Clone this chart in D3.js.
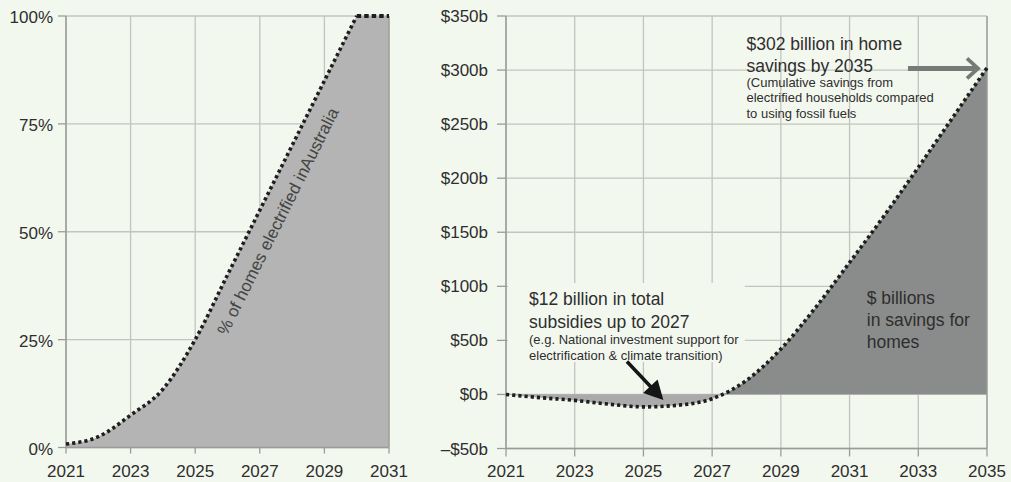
<!DOCTYPE html>
<html>
<head>
<meta charset="utf-8">
<script src="https://cdn.jsdelivr.net/npm/d3@7"></script>
<style>
  html, body { margin: 0; padding: 0; background: #f3f8ef; }
  svg { display: block; font-family: 'Liberation Sans', Arial, Helvetica, sans-serif; }
</style>
</head>
<body>
<svg id="chart" width="1011" height="482"></svg>
<script>
// ---- Data: share of homes electrified ----
const electrifiedYears = [2021, 2022, 2023, 2024, 2025, 2026, 2027, 2028, 2029, 2030, 2031];
const electrifiedPct   = [0.8, 2.5, 7.5, 13.5, 25, 40, 55, 70, 85, 100, 100];
const pctTicks         = [0, 25, 50, 75, 100];
const pctYearTicks     = [2021, 2023, 2025, 2027, 2029, 2031];

// ---- Data: cumulative household savings ($ billions) ----
const savingsYears     = [2021, 2022, 2023, 2024, 2025, 2026, 2027, 2028, 2029, 2030, 2031, 2032, 2033, 2034, 2035];
const savingsBillions  = [0, -3, -5.5, -9, -11.5, -10, -4, 13, 42, 80, 122, 165, 210, 256, 302];
const savingsTicks     = [-50, 0, 50, 100, 150, 200, 250, 300, 350];
const savingsYearTicks = [2021, 2023, 2025, 2027, 2029, 2031, 2033, 2035];

const svg = d3.select('#chart');
const BG = '#f3f8ef';
const GRID = '#c2c4c0';
const AXIS = '#9a9c99';
const TEXT = '#2e2e2e';
const DOT = '#1e1e1e';

// ================= Left panel =================
const xL = d3.scaleLinear().domain([2021, 2031]).range([66, 389]);
const yL = d3.scaleLinear().domain([0, 100]).range([447.5, 16]);
const gL = svg.append('g');

// gridlines
gL.selectAll('.hgrid').data(pctTicks).join('line')
  .attr('x1', xL(2021)).attr('x2', xL(2031))
  .attr('y1', d => yL(d)).attr('y2', d => yL(d))
  .attr('stroke', GRID).attr('stroke-width', 1.3);
gL.selectAll('.vgrid').data(pctYearTicks).join('line')
  .attr('x1', d => xL(d)).attr('x2', d => xL(d))
  .attr('y1', yL(0)).attr('y2', yL(100))
  .attr('stroke', GRID).attr('stroke-width', 1.3);

const pctData = electrifiedYears.map((yr, i) => ({ yr, v: electrifiedPct[i] }));
// smooth ramp up to full electrification, then a straight flat plateau
const rampData = pctData.filter(d => d.yr <= 2030);
const plateauData = pctData.filter(d => d.yr >= 2030);

const rampLine = d3.line().curve(d3.curveMonotoneX).x(d => xL(d.yr)).y(d => yL(d.v));
const plateauLine = d3.line().x(d => xL(d.yr)).y(d => yL(d.v));

const topPath = rampLine(rampData) + plateauLine(plateauData).replace(/^M/, 'L');
const last = pctData[pctData.length - 1], first = pctData[0];
gL.append('path')
  .attr('d', topPath + `L${xL(last.yr)},${yL(0)}L${xL(first.yr)},${yL(0)}Z`)
  .attr('fill', '#b3b4b3');

// axis lines (left edge, bottom, right border)
gL.append('line').attr('x1', xL(2021)).attr('x2', xL(2021)).attr('y1', yL(0)).attr('y2', yL(100))
  .attr('stroke', AXIS).attr('stroke-width', 1.5);
gL.append('line').attr('x1', xL(2021)).attr('x2', xL(2031)).attr('y1', yL(0)).attr('y2', yL(0))
  .attr('stroke', AXIS).attr('stroke-width', 1.5);
gL.append('line').attr('x1', xL(2031)).attr('x2', xL(2031)).attr('y1', yL(0)).attr('y2', yL(100))
  .attr('stroke', AXIS).attr('stroke-width', 1.3);

gL.append('path').attr('d', rampLine(rampData))
  .attr('fill', 'none').attr('stroke', DOT).attr('stroke-width', 3.6).attr('stroke-dasharray', '3.2,3');
gL.append('path').attr('d', plateauLine(plateauData))
  .attr('fill', 'none').attr('stroke', DOT).attr('stroke-width', 3.8).attr('stroke-dasharray', '4.5,3');

// y ticks + labels
gL.selectAll('.ytick').data(pctTicks).join('line')
  .attr('x1', xL(2021) - 8).attr('x2', xL(2021))
  .attr('y1', d => yL(d)).attr('y2', d => yL(d))
  .attr('stroke', AXIS).attr('stroke-width', 1.3);
gL.selectAll('.ylab').data(pctTicks).join('text')
  .attr('x', xL(2021) - 13).attr('y', d => yL(d) + 7)
  .attr('text-anchor', 'end').attr('font-size', 17).attr('fill', TEXT)
  .text(d => d + '%');

// x ticks + labels
gL.selectAll('.xtick').data(pctYearTicks).join('line')
  .attr('x1', d => xL(d)).attr('x2', d => xL(d))
  .attr('y1', yL(0)).attr('y2', yL(0) + 6)
  .attr('stroke', AXIS).attr('stroke-width', 1.3);
gL.selectAll('.xlab').data(pctYearTicks).join('text')
  .attr('x', d => xL(d)).attr('y', 476.5)
  .attr('text-anchor', 'middle').attr('font-size', 17).attr('fill', TEXT)
  .text(d => d);

// label running along the ramp
{
  const a = Math.atan2(yL(85) - yL(40), xL(2029) - xL(2026));
  const deg = a * 180 / Math.PI;
  const px = xL(2027.0), py = yL(54.5);
  const off = 20;
  const cx = px + off * Math.cos(a + Math.PI / 2);
  const cy = py + off * Math.sin(a + Math.PI / 2);
  gL.append('text')
    .attr('transform', `translate(${cx},${cy}) rotate(${deg})`)
    .attr('text-anchor', 'middle').attr('dy', '0.35em')
    .attr('font-size', 17).attr('fill', '#444')
    .text('% of homes electrified inAustralia');
}

// ================= Right panel =================
const xR = d3.scaleLinear().domain([2021, 2035]).range([506, 987]);
const yR = d3.scaleLinear().domain([-50, 350]).range([448.5, 16]);
const gR = svg.append('g');

gR.selectAll('.hgrid').data(savingsTicks).join('line')
  .attr('x1', xR(2021)).attr('x2', xR(2035))
  .attr('y1', d => yR(d)).attr('y2', d => yR(d))
  .attr('stroke', GRID).attr('stroke-width', 1.3);
gR.selectAll('.vgrid').data(savingsYearTicks).join('line')
  .attr('x1', d => xR(d)).attr('x2', d => xR(d))
  .attr('y1', yR(-50)).attr('y2', yR(350))
  .attr('stroke', GRID).attr('stroke-width', 1.3);

const savData = savingsYears.map((yr, i) => ({ yr, v: savingsBillions[i] }));

const defs = svg.append('defs');
defs.append('clipPath').attr('id', 'clip-pos').append('rect')
  .attr('x', xR(2021)).attr('y', yR(350)).attr('width', xR(2035) - xR(2021)).attr('height', yR(0) - yR(350));
defs.append('clipPath').attr('id', 'clip-neg').append('rect')
  .attr('x', xR(2021)).attr('y', yR(0)).attr('width', xR(2035) - xR(2021)).attr('height', yR(-50) - yR(0));

const areaR = d3.area().curve(d3.curveMonotoneX)
  .x(d => xR(d.yr)).y0(yR(0)).y1(d => yR(d.v));
gR.append('path').datum(savData).attr('d', areaR)
  .attr('fill', '#a9aaa9').attr('clip-path', 'url(#clip-neg)');
gR.append('path').datum(savData).attr('d', areaR)
  .attr('fill', '#8a8c8b').attr('clip-path', 'url(#clip-pos)');

// axis lines
gR.append('line').attr('x1', xR(2021)).attr('x2', xR(2021)).attr('y1', yR(-50)).attr('y2', yR(350))
  .attr('stroke', AXIS).attr('stroke-width', 1.5);
gR.append('line').attr('x1', xR(2021)).attr('x2', xR(2035)).attr('y1', yR(-50)).attr('y2', yR(-50))
  .attr('stroke', AXIS).attr('stroke-width', 1.5);
gR.append('line').attr('x1', xR(2035)).attr('x2', xR(2035)).attr('y1', yR(-50)).attr('y2', yR(350))
  .attr('stroke', AXIS).attr('stroke-width', 1.3);

// annotation block background for the subsidy note
gR.append('rect')
  .attr('x', xR(2021) + 2).attr('y', 283)
  .attr('width', xR(2027.95) - xR(2021) - 2).attr('height', 79)
  .attr('fill', BG);

const lineR = d3.line().curve(d3.curveMonotoneX).x(d => xR(d.yr)).y(d => yR(d.v));
gR.append('path').datum(savData).attr('d', lineR)
  .attr('fill', 'none').attr('stroke', DOT).attr('stroke-width', 3.6).attr('stroke-dasharray', '3.2,3');

// y ticks + labels
gR.selectAll('.ytick').data(savingsTicks).join('line')
  .attr('x1', xR(2021) - 9).attr('x2', xR(2021))
  .attr('y1', d => yR(d)).attr('y2', d => yR(d))
  .attr('stroke', AXIS).attr('stroke-width', 1.3);
gR.selectAll('.ylab').data(savingsTicks).join('text')
  .attr('x', xR(2021) - 18).attr('y', d => yR(d) + 6)
  .attr('text-anchor', 'end').attr('font-size', 17).attr('fill', TEXT)
  .text(d => (d < 0 ? '\u2013$' + Math.abs(d) : '$' + d) + 'b');

// x ticks + labels
gR.selectAll('.xtick').data(savingsYearTicks).join('line')
  .attr('x1', d => xR(d)).attr('x2', d => xR(d))
  .attr('y1', yR(-50)).attr('y2', yR(-50) + 8)
  .attr('stroke', AXIS).attr('stroke-width', 1.3);
gR.selectAll('.xlab').data(savingsYearTicks).join('text')
  .attr('x', d => xR(d)).attr('y', 476.5)
  .attr('text-anchor', 'middle').attr('font-size', 17).attr('fill', TEXT)
  .text(d => d);

// ---- annotations ----
function textBlock(g, x, lines) {
  lines.forEach(l => {
    g.append('text').attr('x', x).attr('y', l.y)
      .attr('font-size', l.size).attr('fill', TEXT).text(l.t);
  });
}

textBlock(gR, xR(2028), [
  { t: '$302 billion in home', y: 50, size: 17.5 },
  { t: 'savings by 2035', y: 71.5, size: 17.5 },
  { t: '(Cumulative savings from', y: 86.5, size: 13 },
  { t: 'electrified households compared', y: 102, size: 13 },
  { t: 'to using fossil fuels', y: 117.5, size: 13 }
]);

textBlock(gR, xR(2021.67), [
  { t: '$12 billion in total', y: 305, size: 17.5 },
  { t: 'subsidies up to 2027', y: 327.5, size: 17.5 },
  { t: '(e.g. National investment support for', y: 344, size: 13 },
  { t: 'electrification & climate transition)', y: 359.5, size: 13 }
]);

textBlock(gR, xR(2031.5), [
  { t: '$ billions', y: 304, size: 17.5 },
  { t: 'in savings for', y: 326, size: 17.5 },
  { t: 'homes', y: 347.5, size: 17.5 }
]);

// grey arrow pointing at the 2035 total
{
  const yA = yR(302) + 0.5;
  const tipX = xR(2035) - 9;
  gR.append('line').attr('x1', xR(2032.7)).attr('x2', tipX - 2).attr('y1', yA).attr('y2', yA)
    .attr('stroke', '#767b77').attr('stroke-width', 5);
  gR.append('polyline')
    .attr('points', `${tipX - 11},${yA - 10} ${tipX},${yA} ${tipX - 11},${yA + 10}`)
    .attr('fill', 'none').attr('stroke', '#767b77').attr('stroke-width', 3.8);
}

// black arrow pointing at the subsidy dip
{
  const x0 = xR(2024.52), y0 = yR(30.5);
  const x1 = xR(2025.58), y1 = yR(-5.2);
  const dx = x1 - x0, dy = y1 - y0, len = Math.hypot(dx, dy);
  const ux = dx / len, uy = dy / len;
  const hl = 19, hw = 10;
  const bx = x1 - ux * hl, by = y1 - uy * hl;
  gR.append('line').attr('x1', x0).attr('y1', y0).attr('x2', bx + ux * 2).attr('y2', by + uy * 2)
    .attr('stroke', '#151515').attr('stroke-width', 3.5);
  gR.append('polygon')
    .attr('points', `${x1},${y1} ${bx - uy * hw},${by + ux * hw} ${bx + uy * hw},${by - ux * hw}`)
    .attr('fill', '#151515');
}
</script>
</body>
</html>
